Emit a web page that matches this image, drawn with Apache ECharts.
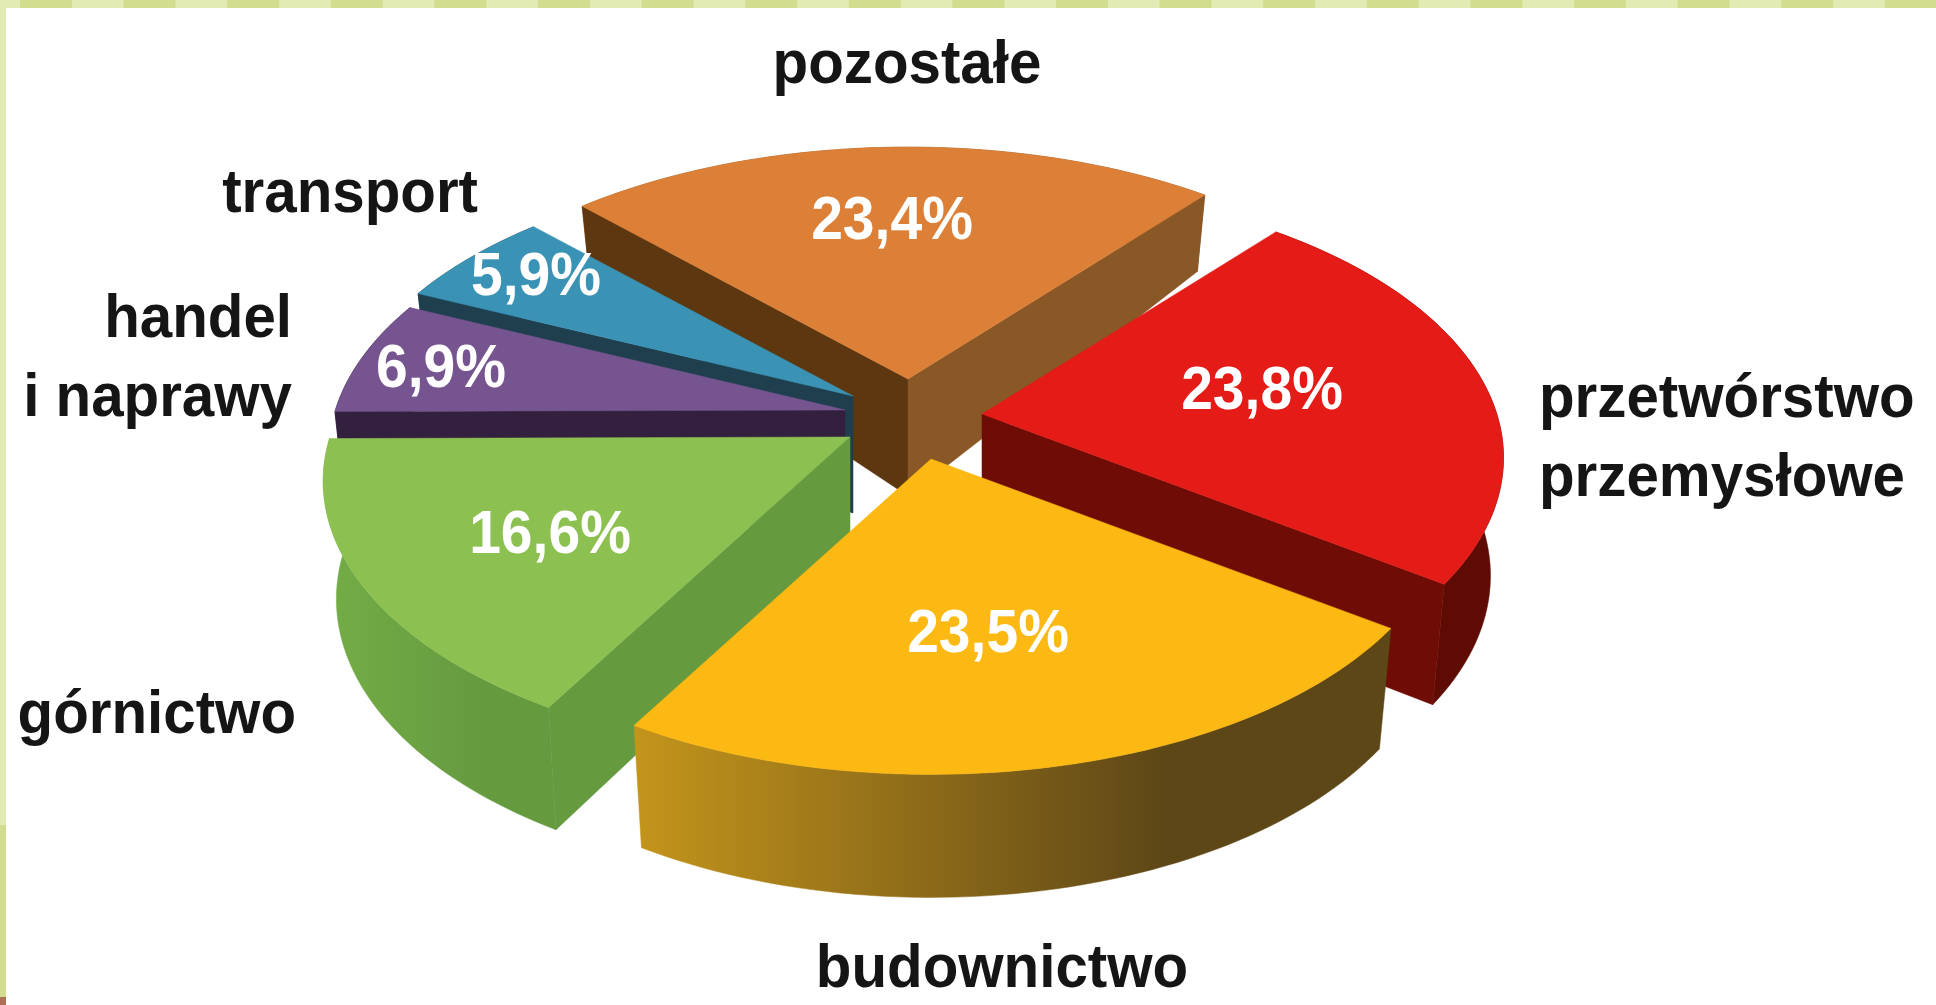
<!DOCTYPE html>
<html>
<head>
<meta charset="utf-8">
<title>Struktura</title>
<style>
  html, body { margin: 0; padding: 0; background: #fff; }
  #chart { width: 1936px; height: 1005px; }
</style>
<script src="https://cdn.jsdelivr.net/npm/echarts@6/dist/echarts.min.js"></script>
</head>
<body>
<div id="chart"></div>
<script>
// values in the order round the pie, clockwise from the back
const categories = ['pozostałe', 'przetwórstwo\nprzemysłowe', 'budownictwo', 'górnictwo', 'handel\ni naprawy', 'transport'];
const percents = [23.4, 23.8, 23.5, 16.6, 6.9, 5.9];
const percentLabels = ['23,4%', '23,8%', '23,5%', '16,6%', '6,9%', '5,9%'];

// look of each slice
const topColors = ['#dc8038', '#e41b17', '#fcb813', '#8cc152', '#75548f', '#3a93b5'];
const rimColors = [['#8a5726', '#8a5726'], ['#6e0e05', '#5e0b04'], ['#c4951b', '#5e4717'], ['#74ad47', '#659a3f'], ['#33203f', '#33203f'], ['#1f3f4f', '#1f3f4f']];
const startFaceColors = ['#5c3710', '#6e0c05', '#c4951b', '#659a3e', '#33203f', '#1f3f4f'];
const endFaceColors = ['#8a5726', '#6e0c05', '#c4951b', '#659a3e', '#33203f', '#1f3f4f'];

// layout of the exploded slices, in pixels
const apexX = [908, 982, 931, 850, 845, 853];
const apexY = [379, 414, 459, 437, 410, 396];
const radiusScale = [1, 0.99, 0.985, 1, 0.98, 0.98];
const drawOrder = [0, 1, 5, 4, 3, 2];
const percentX = [892, 1262, 988, 550, 441, 536];
const percentY = [222, 392, 635, 536, 370, 278];
const nameX = [907, 1539, 1002, 296, 292, 478];
const nameY = [66, 439, 970, 716, 359, 195];
const nameAlign = ['center', 'left', 'center', 'right', 'right', 'right'];

const RX = 520, RY = 269, PERSPECTIVE = 0.16, START_ANGLE = -44.3, APEX_DEPTH = 117;

function project(theta, scale) {
  const r = theta * Math.PI / 180;
  const u = Math.sin(r), v = -Math.cos(r);
  const s = 1 / (1 - PERSPECTIVE * v);
  const h = v > 0 ? APEX_DEPTH + 6 * v : APEX_DEPTH + 53 * v;
  return { x: RX * u * s * scale, y: RY * v * s * scale, h: h };
}

function lower(p) {
  return [p.x * 0.975, p.y + p.h];
}

function polygon(points, ox, oy, fill) {
  return {
    type: 'polygon',
    silent: true,
    shape: { points: points.map(p => [p[0] + ox, p[1] + oy]) },
    style: { fill: fill, stroke: fill, lineWidth: 0.5 }
  };
}

function sideFace(p, ox, oy, fill, wantSign) {
  const a = [0, 0], b = [p.x, p.y], c = lower(p), d = [0, APEX_DEPTH];
  const pts = [a, b, c, d];
  let area = 0;
  pts.forEach((q, i) => {
    const n = pts[(i + 1) % 4];
    area += q[0] * n[1] - n[0] * q[1];
  });
  return area * wantSign > 0 ? polygon(pts, ox, oy, fill) : null;
}

function renderItem(params, api) {
  const i = api.value(2);
  const from = api.value(0), to = api.value(1);
  const ox = apexX[i], oy = apexY[i], k = radiusScale[i];
  const upper = [], under = [];
  for (let t = 0; t <= 60; t++) {
    const p = project(from + (to - from) * t / 60, k);
    upper.push([p.x, p.y]);
    under.unshift(lower(p));
  }
  const children = [];
  children.push(polygon(upper.concat(under), ox, oy, {
    type: 'linear', x: 0, y: 0, x2: 1, y2: 0,
    colorStops: [{ offset: 0, color: rimColors[i][0] }, { offset: 0.7, color: rimColors[i][1] }, { offset: 1, color: rimColors[i][1] }]
  }));
  const startFace = sideFace(project(from, k), ox, oy, startFaceColors[i], -1);
  const endFace = sideFace(project(to, k), ox, oy, endFaceColors[i], 1);
  if (startFace) children.push(startFace);
  if (endFace) children.push(endFace);
  children.push(polygon([[0, 0]].concat(upper), ox, oy, topColors[i]));
  children.push({
    type: 'text',
    silent: true,
    x: percentX[i],
    y: percentY[i],
    scaleX: 0.92,
    style: {
      text: percentLabels[i], fill: '#fff', align: 'center', verticalAlign: 'middle',
      font: 'bold 62px "Liberation Sans"'
    }
  });
  return { type: 'group', children: children };
}

function buildItems() {
  const total = percents.reduce((a, b) => a + b, 0);
  let acc = 0;
  const items = percents.map((v, i) => {
    const from = START_ANGLE + acc / total * 360;
    acc += v;
    return [from, START_ANGLE + acc / total * 360, i];
  });
  return drawOrder.map(i => items[i]);
}

// patterned frame of the page
function frame() {
  const out = [
    { type: 'rect', shape: { x: 0, y: 0, width: 1936, height: 8 }, style: { fill: '#e2ebb3' } },
    { type: 'rect', shape: { x: 0, y: 0, width: 6, height: 1005 }, style: { fill: '#e2ebb3' } },
    { type: 'rect', shape: { x: 0, y: 825, width: 6, height: 172 }, style: { fill: '#d3dd90' } },
    { type: 'rect', shape: { x: 0, y: 997, width: 6, height: 8 }, style: { fill: '#ad6f55' } }
  ];
  for (let x = 20; x < 1936; x += 103.6) {
    out.push({ type: 'rect', shape: { x: x, y: 0, width: 52, height: 8 }, style: { fill: '#d3dd90' } });
  }
  categories.forEach((name, i) => {
    out.push({
      type: 'text',
      x: nameX[i],
      y: nameY[i],
      scaleX: 0.94,
      style: {
        text: name, fill: '#151515', align: nameAlign[i], verticalAlign: 'middle',
        font: 'bold 62px "Liberation Sans"', lineHeight: 79
      }
    });
  });
  return out;
}

const chart = echarts.init(document.getElementById('chart'), null, { renderer: 'canvas' });
chart.setOption({
  animation: false,
  backgroundColor: '#fff',
  graphic: { elements: frame() },
  series: [{
    type: 'custom',
    coordinateSystem: 'none',
    silent: true,
    renderItem: renderItem,
    data: buildItems()
  }]
});
</script>
</body>
</html>
